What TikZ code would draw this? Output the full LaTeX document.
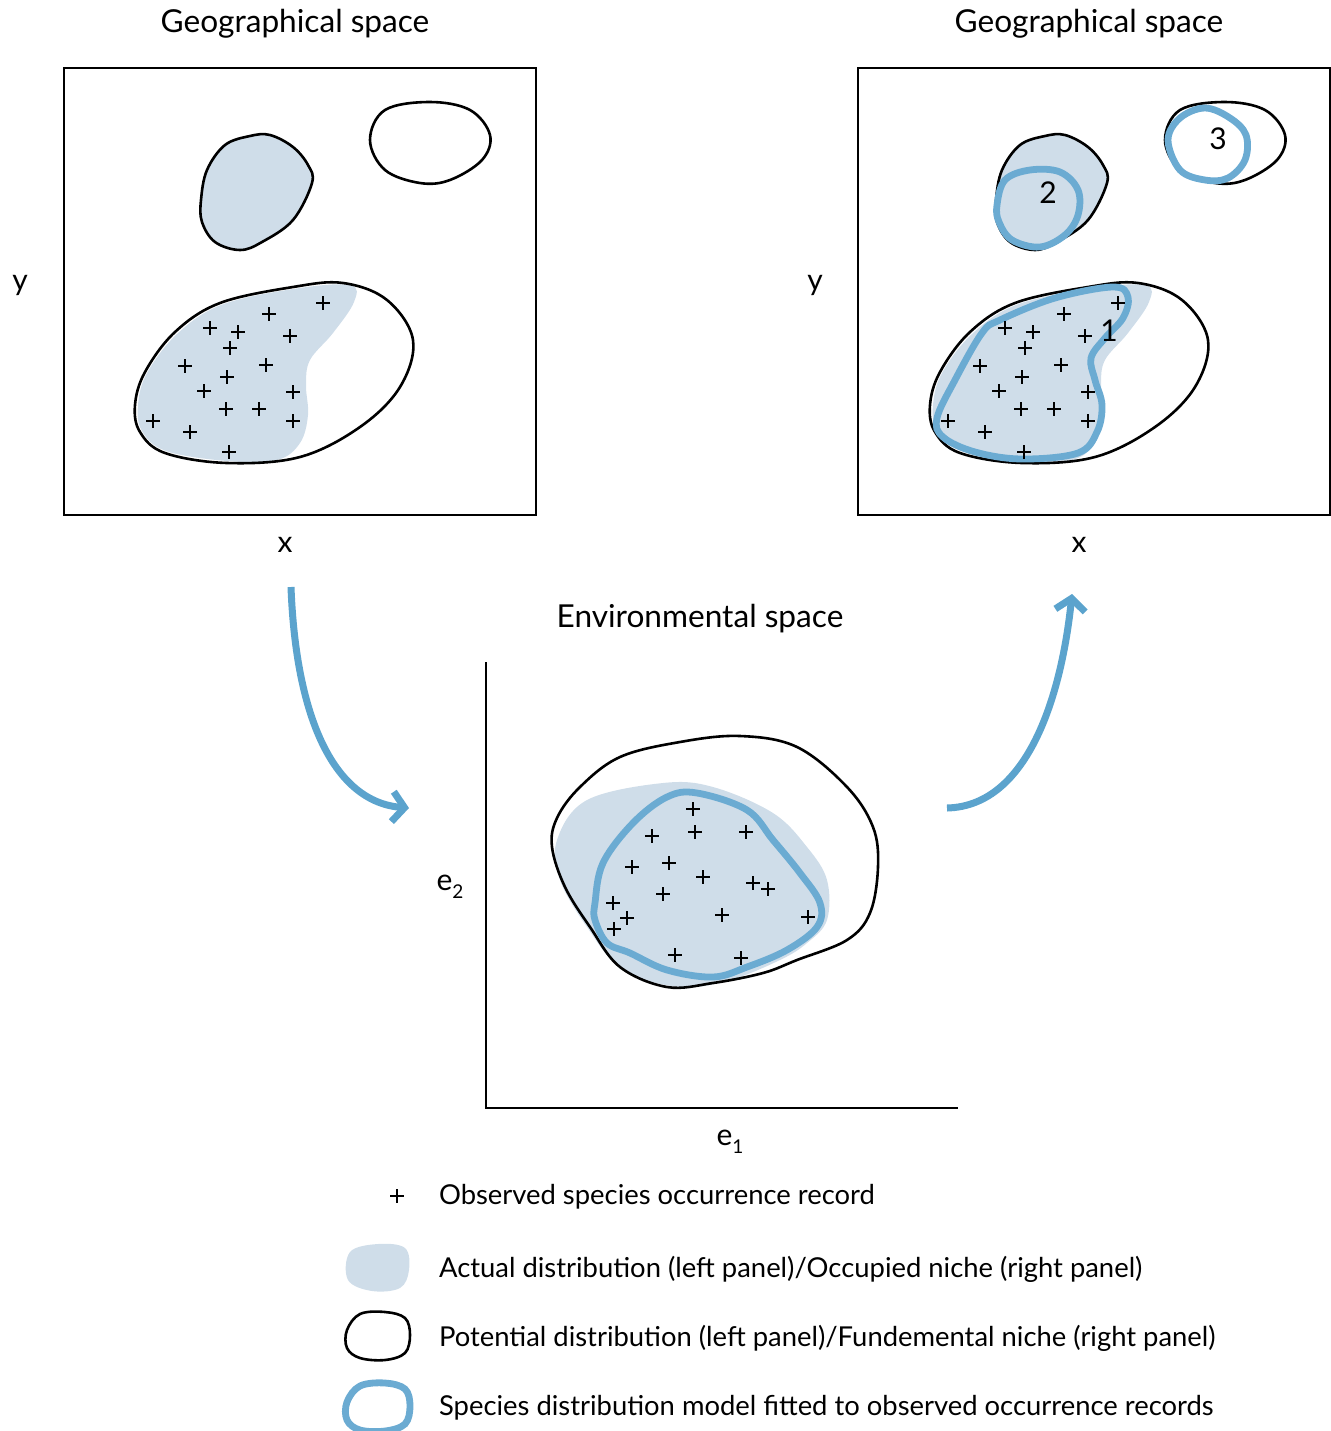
\documentclass[tikz,border=0pt]{standalone}
\usepackage{fontspec}
\setmainfont{Lato}
\usetikzlibrary{arrows.meta}
\definecolor{occfill}{HTML}{CFDDE9}
\definecolor{mdlblue}{HTML}{6BABD2}
\definecolor{arrblue}{HTML}{5BA3CD}
\tikzset{
  outl/.style={draw=black, line width=1.3pt},
  occ/.style={fill=occfill, draw=none},
  model/.style={draw=mdlblue, line width=3.4pt},
  frame/.style={draw=black, line width=1.1pt},
  flow/.style={draw=arrblue, line width=3.5pt, -{Straight Barb[length=6pt,width=15pt,line width=3.5pt]}},
  title/.style={font=\fontsize{15.8}{18}\selectfont},
  axlab/.style={font=\fontsize{15}{17}\selectfont},
  legtext/.style={font=\fontsize{13.7}{16}\selectfont, anchor=west},
  rec/.pic={\draw[line width=1.3pt] (-7,0)--(7,0) (0,-7)--(0,7);}
}
\newcommand\geoCrosses{%
  \foreach \p in {(323,303),(269,314),(210,328),(238,332),(290,336),(230,348),
    (185,366),(266,365),(227,377),(204,391),(293,392),(226,409),(259,409),
    (153,421),(293,421),(190,432),(229,452)} \pic at \p {rec};}
\newcommand\geoShapes{%
  \path[occ] plot[smooth cycle, tension=0.6] coordinates {(312,183) (293,220) (262,242) (240,250) (215,242) (202,222) (201,200) (207,170) (225,145) (250,136) (270,135) (293,147) (308,165)};
  \path[occ] plot[smooth cycle, tension=0.6] coordinates {(138,405) (147,373) (177,334) (221,305) (293,289) (350,285) (354,302) (333,333) (310,360) (306,385) (308,415) (300,443) (277,460) (227,461) (166,451) (142,431)};
  \path[outl] plot[smooth cycle, tension=0.6] coordinates {(312,183) (293,220) (262,242) (240,250) (215,242) (202,222) (201,200) (207,170) (225,145) (250,136) (270,135) (293,147) (308,165)};
  \path[outl] plot[smooth cycle, tension=0.6] coordinates {(370,140) (385,110) (430,102) (470,110) (490,135) (482,160) (450,180) (420,183) (385,170)};
  \path[outl] plot[smooth cycle, tension=0.6] coordinates {(135,405) (145,372) (175,332) (220,303) (293,287) (343,283) (387,300) (413,340) (400,387) (360,427) (300,457) (227,463) (165,453) (140,432)};
}
\begin{document}
\begin{tikzpicture}[x=0.5pt, y=-0.5pt]
\path[use as bounding box] (0,0) rectangle (1330,1431);

% ---------- left geographical panel ----------
\node[title] (t1) at (295,24) {Geographical space};
\node[frame, minimum width=236pt, minimum height=223.5pt, inner sep=0pt] (p1) at (300,291.5) {};
\geoShapes
\geoCrosses
\node[axlab] (y1) at (20,285) {y};
\node[axlab] (x1) at (285,545) {x};

% ---------- right geographical panel ----------
\node[title] (t2) at (1089,24) {Geographical space};
\node[frame, minimum width=236pt, minimum height=223.5pt, inner sep=0pt] (p2) at (1094,291.5) {};
\begin{scope}[shift={(795,0)}]
  \geoShapes
  \path[model] plot[smooth cycle, tension=0.6] coordinates {(142,418) (160,380) (187,333) (205,320) (260,298) (318,287) (333,297) (328,318) (310,338) (296,358) (300,380) (307,405) (302,432) (283,453) (227,459) (180,452) (148,437)};
  \path[model] plot[smooth cycle, tension=0.6] coordinates {(202,205) (210,180) (235,170) (265,172) (283,190) (283,215) (270,235) (245,247) (217,240) (204,222)};
  \path[model] plot[smooth cycle, tension=0.6] coordinates {(373,140) (385,118) (410,108) (435,118) (451,135) (450,160) (433,178) (410,180) (385,170)};
  \geoCrosses
\end{scope}
\node[axlab] (n1) at (1109,331) {1};
\node[axlab] (n2) at (1048,193) {2};
\node[axlab] (n3) at (1218,139) {3};
\node[axlab] (y2) at (815,285) {y};
\node[axlab] (x2) at (1079,545) {x};

% ---------- environmental space ----------
\node[title] (t3) at (700,619) {Environmental space};
\coordinate (ax0) at (486,1108);
\coordinate (axy) at (486,662);
\coordinate (axx) at (958,1108);
\draw[line width=1.25pt] (axy) -- (ax0) -- (axx);
\node[axlab] (e2) at (450,887) {e\raisebox{-0.55ex}{\fontsize{9.5}{9.5}\selectfont 2}};
\node[axlab] (e1) at (730,1142) {e\raisebox{-0.55ex}{\fontsize{9.5}{9.5}\selectfont 1}};

\path[occ] plot[smooth cycle, tension=0.6] coordinates {(557,840) (587,800) (663,783) (713,787) (773,813) (807,847) (827,880) (827,920) (807,943) (780,960) (730,980) (680,987) (623,970) (587,927) (560,880)};
\path[outl] plot[smooth cycle, tension=0.6] coordinates {(552,847) (557,818) (580,787) (620,757) (680,742) (740,736) (797,747) (847,787) (873,827) (878,867) (870,913) (847,940) (797,960) (763,973) (713,983) (667,987) (620,967) (590,927) (565,887)};
\path[model] plot[smooth cycle, tension=0.6] coordinates {(595,903) (603,863) (633,823) (667,797) (697,793) (747,810) (773,840) (800,873) (820,903) (817,927) (787,950) (747,967) (713,977) (667,970) (630,953) (607,943) (595,920)};
\foreach \p in {(693,809),(652,836),(695,832),(746,832),(632,867),(669,863),(703,877),
  (753,883),(768,889),(663,894),(613,903),(627,918),(722,915),(808,917),(614,929),
  (675,955),(741,958)} \pic at \p {rec};

% ---------- arrows ----------
\coordinate (a1s) at (291,587);
\coordinate (a1e) at (409,808);
\coordinate (a2s) at (947,808);
\coordinate (a2e) at (1072,594);
\draw[flow] (a1s) .. controls (296,720) and (335,802) .. (a1e);
\draw[flow] (a2s) .. controls (1030,806) and (1062,690) .. (a2e);

% ---------- legend ----------
\pic at (397,1196) {rec};
\node[legtext] (l1) at (432,1197) {Observed species occurrence record};
\path[occ] plot[smooth cycle, tension=0.6] coordinates {(350,1252) (378,1244) (405,1248) (409,1270) (400,1288) (372,1291) (348,1280)};
\node[legtext] (l2) at (432,1269) {Actual distribution (left panel)/Occupied niche (right panel)};
\path[outl] plot[smooth cycle, tension=0.6] coordinates {(347,1330) (360,1314) (385,1312) (405,1318) (410,1335) (405,1353) (385,1360) (360,1358) (347,1348)};
\node[legtext] (l3) at (432,1338) {Potential distribution (left panel)/Fundemental niche (right panel)};
\path[model] plot[smooth cycle, tension=0.6] coordinates {(347,1402) (360,1386) (385,1383) (405,1389) (410,1406) (405,1424) (385,1431) (360,1430) (347,1420)};
\node[legtext] (l4) at (432,1408) {Species distribution model fitted to observed occurrence records};
\end{tikzpicture}
\end{document}
